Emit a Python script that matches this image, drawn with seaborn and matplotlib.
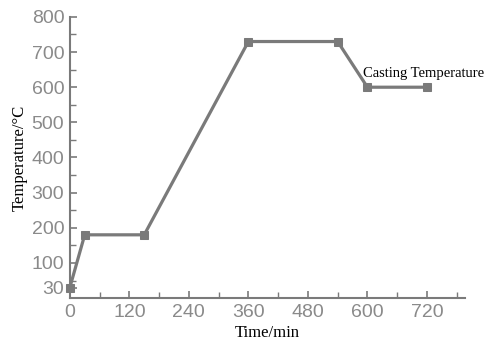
import matplotlib
matplotlib.use("Agg")
import matplotlib.pyplot as plt
import seaborn as sns
import pandas as pd
from matplotlib.ticker import MultipleLocator, FixedLocator

time_min = [0, 30, 150, 360, 540, 600, 720]
temperature = [30, 180, 180, 730, 730, 600, 600]
x_ticks = [0, 120, 240, 360, 480, 600, 720]
y_ticks = [30, 100, 200, 300, 400, 500, 600, 700, 800]
annotation = "Casting Temperature"

sns.set_theme(style="white")
df = pd.DataFrame({"t": time_min, "T": temperature})

fig = plt.figure(figsize=(4.85, 3.6), dpi=100)
ax = fig.add_axes([0.144, 0.172, 0.815, 0.781])
gray = "#7a7a7a"
sns.lineplot(data=df, x="t", y="T", ax=ax, color=gray, linewidth=2.3,
             marker="s", markersize=6, markeredgecolor=gray, markerfacecolor=gray)
for ln in ax.get_lines():
    ln.set_clip_on(False)

ax.set_xlim(0, 797)
ax.set_ylim(0, 800)
ax.xaxis.set_major_locator(FixedLocator(x_ticks))
ax.yaxis.set_major_locator(FixedLocator(y_ticks))
ax.xaxis.set_minor_locator(MultipleLocator(60))
ax.yaxis.set_minor_locator(FixedLocator([50 + 50 * i for i in range(15)]))
ax.tick_params(which="both", direction="in", color=gray, left=True, bottom=True)
ax.tick_params(which="major", length=5, width=1.2, labelsize=14, labelcolor="#8a8a8a", pad=4)
ax.tick_params(which="minor", length=4, width=1.0)
for lab in ax.get_xticklabels() + ax.get_yticklabels():
    lab.set_family("Liberation Sans")

for s in ["top", "right"]:
    ax.spines[s].set_visible(False)
for s in ["left", "bottom"]:
    ax.spines[s].set_color(gray)
    ax.spines[s].set_linewidth(1.5)

ax.set_xlabel("Time/min", family="Liberation Serif", fontsize=12, color="black", labelpad=3)
ax.set_ylabel("Temperature/°C", family="Liberation Serif", fontsize=12, color="black", labelpad=3)
ax.text(592, 640, annotation, family="Liberation Serif", fontsize=10.5, color="black", va="center")

fig.savefig("out.png", dpi=100)
